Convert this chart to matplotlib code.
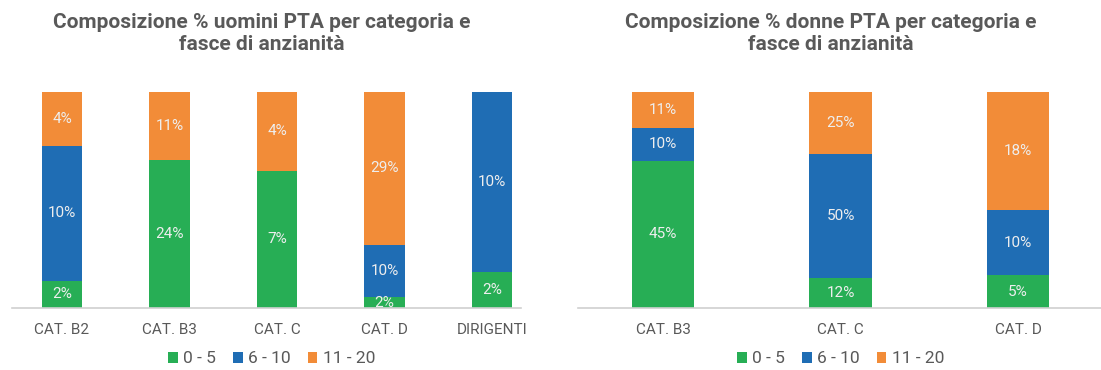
import numpy as np
import matplotlib.pyplot as plt

plt.rcParams['font.family'] = ['Roboto', 'DejaVu Sans']

# Dati: valori percentuali per fascia di anzianità
fasce = ['0 - 5', '6 - 10', '11 - 20']
colori = ['#27ae55', '#1f6db4', '#f28c38']

cat_uomini = ['CAT. B2', 'CAT. B3', 'CAT. C', 'CAT. D', 'DIRIGENTI']
uomini_0_5 = [2, 24, 7, 2, 2]
uomini_6_10 = [10, 0, 0, 10, 10]
uomini_11_20 = [4, 11, 4, 29, 0]

cat_donne = ['CAT. B3', 'CAT. C', 'CAT. D']
donne_0_5 = [45, 12, 5]
donne_6_10 = [10, 50, 10]
donne_11_20 = [11, 25, 18]

grigio = '#595959'

fig = plt.figure(figsize=(11.01, 3.70), dpi=100)


def grafico(ax, categorie, serie, larghezza, titolo, tit_x, xlim, linea, leg_x):
    valori = np.array(serie, dtype=float)
    totali = valori.sum(axis=0)
    quote = valori / totali * 100
    x = np.arange(len(categorie))
    base = np.zeros(len(categorie))
    for i in range(len(serie)):
        ax.bar(x, quote[i], width=larghezza, bottom=base, color=colori[i],
               label=fasce[i], linewidth=0)
        for j in range(len(categorie)):
            if valori[i][j] > 0:
                ax.text(x[j], base[j] + quote[i][j] / 2, f'{int(valori[i][j])}%',
                        ha='center', va='center', color='#eeeeee', fontsize=11)
        base += quote[i]
    ax.set_xlim(*xlim)
    ax.set_ylim(0, 100)
    ax.axhline(0, xmin=linea[0], xmax=linea[1], color='#d0d0d0', linewidth=1.2,
               clip_on=False)
    ax.set_xticks(x)
    ax.set_xticklabels(categorie, color=grigio, fontsize=11)
    ax.tick_params(axis='x', length=0, pad=11)
    ax.set_yticks([])
    for s in ax.spines.values():
        s.set_visible(False)
    fig.text(tit_x / 1101, 1 - 33 / 370, titolo, ha='center', va='center',
             color=grigio, fontsize=15, fontweight='bold', linespacing=1.2)
    ax.legend(loc='center', bbox_to_anchor=(leg_x, -0.236), ncol=3, frameon=False,
              fontsize=12.5, handlelength=0.55, handleheight=0.55, handletextpad=0.3,
              columnspacing=1.0, labelcolor=grigio)


ax1 = fig.add_axes([8.25 / 1101, 0.1676, 537.5 / 1101, 0.5838])
grafico(ax1, cat_uomini, [uomini_0_5, uomini_6_10, uomini_11_20], 0.38,
        'Composizione % uomini PTA per categoria e\nfasce di anzianità', 262,
        (-0.5, 4.5), (0.007, 0.954), 0.49)

ax2 = fig.add_axes([574.25 / 1101, 0.1676, 532.5 / 1101, 0.5838])
grafico(ax2, cat_donne, [donne_0_5, donne_6_10, donne_11_20], 0.35,
        'Composizione % donne PTA per categoria e\nfasce di anzianità', 831,
        (-0.5, 2.5), (0.007, 1.0), 0.5)

fig.savefig('out.png', dpi=100)
